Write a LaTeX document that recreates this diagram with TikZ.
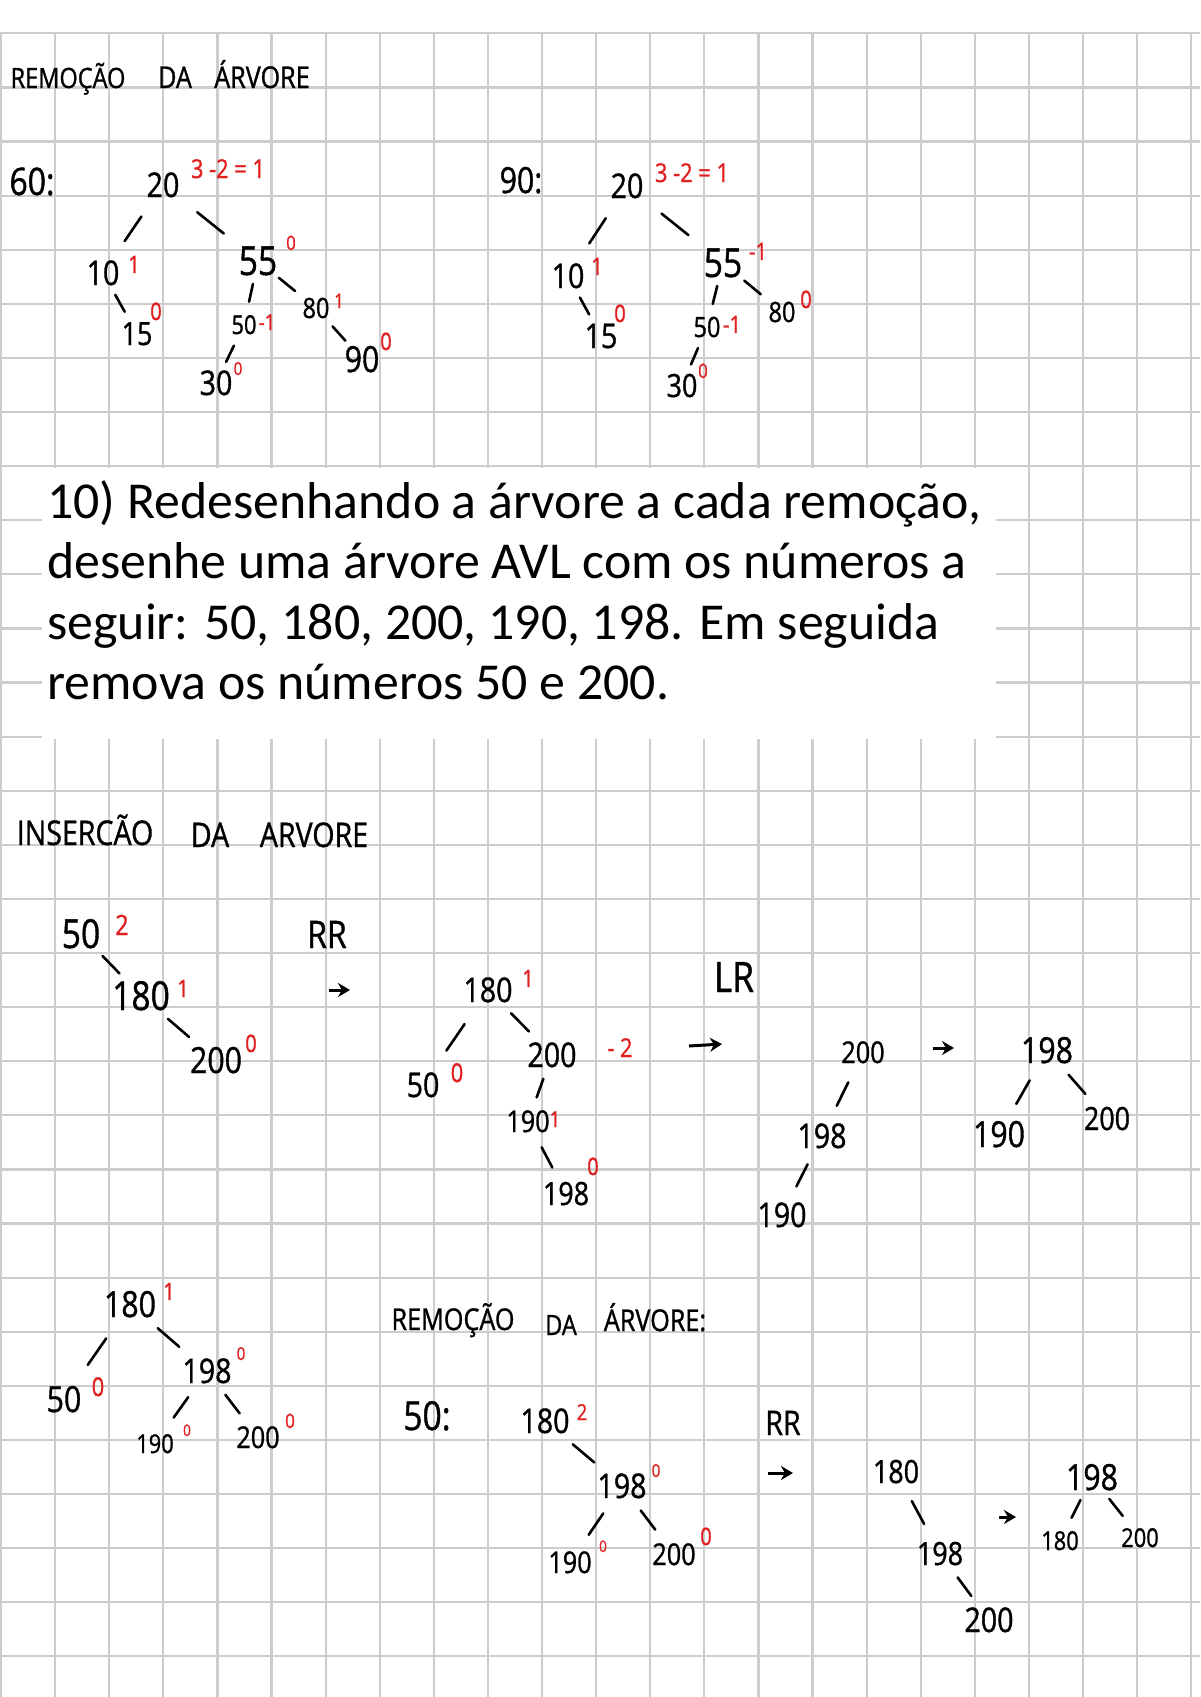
\documentclass[tikz,border=0pt]{standalone}
\usepackage{fontspec}
\newfontfamily\hand[FakeStretch=0.84,FakeBold=1]{Open Sans}
\newfontfamily\boxfont{Carlito}
\usepackage{xcolor}
\definecolor{cRed}{HTML}{E02020}
\definecolor{cGrid}{HTML}{CDCDCD}
\usepackage{tikz}
\usetikzlibrary{arrows.meta,calc}
\tikzset{
  hw/.style={font=\hand\fontsize{#1}{#1}\selectfont,inner sep=0pt,anchor=base},
  hw/.default=17,
  bal/.style={hw=#1,text=cRed},
  bal/.default=12,
  % short stroke in the middle between two keys
  link/.style={line width=1.3pt,line cap=round,
    to path={($(\tikztostart)!.36!(\tikztotarget)$) -- ($(\tikztostart)!.64!(\tikztotarget)$)}},
  arr/.style={-{Stealth[length=6pt,width=7pt]},line width=1.5pt},
  gridline/.style={draw=cGrid,line width=1.1pt},
  qline/.style={font=\boxfont\fontsize{25.9}{31}\selectfont,inner sep=0pt,anchor=base west},
}
\begin{document}
\begin{tikzpicture}[x=0.5pt,y=-0.5pt]
  \useasboundingbox (0,0) rectangle (1200,1697);
  \fill[white] (0,0) rectangle (1200,1697);
  % grid paper
  \foreach \k in {0,...,30}
    \draw[gridline] (0,{33.3+54.1*\k}) -- (1200,{33.3+54.1*\k});
  \foreach \k in {0,...,22}
    \draw[gridline] ({1+54.1*\k},33.3) -- ({1+54.1*\k},1697);

  % question box
  \fill[white] (42,468) rectangle (996,739);
  \node[qline] (q1) at (47,518) {10) Redesenhando a árvore a cada remoção,};
  \node[qline] (q2) at (47,578.5) {desenhe uma árvore AVL com os números a};
  \node[qline] (q3) at (47,639) {seguir: 50, 180, 200, 190, 198. Em seguida};
  \node[qline] (q4) at (47,699.5) {remova os números 50 e 200.};

  % removal, top
  \node[hw=14] (t1a) at (68,88) {REMOÇÃO};
  \node[hw=15] (t1b) at (175,88) {DA};
  \node[hw=15] (t1c) at (262,88) {ÁRVORE};

  \node[hw=19] (a0) at (32,195) {60:};
  \node[hw=17] (a20) at (163,197) {20};
  \node[bal=13] (a20b) at (228,178) {3 -2 = 1};
  \node[hw=17] (a10) at (103,285) {10};
  \node[bal]   (a10b) at (134,273) {1};
  \node[hw=20] (a55) at (258,275) {55};
  \node[bal=10] (a55b) at (291,250) {0};
  \node[hw=16] (a15) at (137,345) {15};
  \node[bal]   (a15b) at (156,320) {0};
  \node[hw=13] (a50) at (244,334) {50};
  \node[bal=11] (a50b) at (267,330) {-1};
  \node[hw=14] (a80) at (316,318) {80};
  \node[bal=10] (a80b) at (339,308) {1};
  \node[hw=17] (a30) at (216,395) {30};
  \node[bal=9] (a30b) at (238,375) {0};
  \node[hw=18] (a90) at (362,372) {90};
  \node[bal]   (a90b) at (386,350) {0};
  \draw[link] (a20) to (a10);
  \draw[link] (a20) to (a55);
  \draw[link] (a10) to (a15);
  \draw[link] (a55) to (a50);
  \draw[link] (a55) to (a80);
  \draw[link] (a50) to (a30);
  \draw[link] (a80) to (a90);

  \node[hw=18] (b0) at (521,193) {90:};
  \node[hw=17] (b20) at (627,198) {20};
  \node[bal=13] (b20b) at (692,182) {3 -2 = 1};
  \node[hw=17] (b10) at (568,288) {10};
  \node[bal]   (b10b) at (597,275) {1};
  \node[hw=20] (b55) at (723,277) {55};
  \node[bal]   (b55b) at (758,260) {-1};
  \node[hw=17] (b15) at (601,348) {15};
  \node[bal]   (b15b) at (620,322) {0};
  \node[hw=14] (b50) at (707,337) {50};
  \node[bal]   (b50b) at (732,333) {-1};
  \node[hw=14] (b80) at (782,322) {80};
  \node[bal]   (b80b) at (806,308) {0};
  \node[hw=16] (b30) at (682,397) {30};
  \node[bal=10] (b30b) at (703,378) {0};
  \draw[link] (b20) to (b10);
  \draw[link] (b20) to (b55);
  \draw[link] (b10) to (b15);
  \draw[link] (b55) to (b50);
  \draw[link] (b55) to (b80);
  \draw[link] (b50) to (b30);

  % insertion
  \node[hw=17] (t2a) at (85,845) {INSERCÃO};
  \node[hw=17] (t2b) at (210,847) {DA};
  \node[hw=17] (t2c) at (314,847) {ARVORE};

  \node[hw=20] (c50) at (81,948) {50};
  \node[bal=14] (c50b) at (122,935) {2};
  \node[hw=20] (c180) at (141,1010) {180};
  \node[bal]   (c180b) at (183,997) {1};
  \node[hw=18] (c200) at (216,1073) {200};
  \node[bal]   (c200b) at (251,1052) {0};
  \draw[link] (c50) to (c180);
  \draw[link] (c180) to (c200);
  \node[hw=19] (rr1) at (327,948) {RR};
  \coordinate (r1s) at (329,990);
  \coordinate (r1e) at (350,990);
  \draw[arr] (r1s) -- (r1e);

  \node[hw=17] (d180) at (488,1002) {180};
  \node[bal]   (d180b) at (528,987) {1};
  \node[hw=17] (d50) at (423,1097) {50};
  \node[bal=13] (d50b) at (457,1082) {0};
  \node[hw=17] (d200) at (552,1067) {200};
  \node[bal=13] (d200b) at (620,1057) {- 2};
  \node[hw=15] (d190) at (528,1132) {190};
  \node[bal=11] (d190b) at (555,1127) {1};
  \node[hw=16] (d198) at (566,1205) {198};
  \node[bal]   (d198b) at (593,1175) {0};
  \draw[link] (d180) to (d50);
  \draw[link] (d180) to (d200);
  \draw[link] (d200) to (d190);
  \draw[link] (d190) to (d198);
  \node[hw=21] (lr) at (734,992) {LR};
  \coordinate (r2s) at (689,1046);
  \coordinate (r2e) at (722,1044);
  \draw[arr] (r2s) -- (r2e);

  \node[hw=15] (e200) at (863,1063) {200};
  \node[hw=17] (e198) at (822,1148) {198};
  \node[hw=17] (e190) at (782,1227) {190};
  \draw[link] (e200) to (e198);
  \draw[link] (e198) to (e190);
  \coordinate (r3s) at (933,1048);
  \coordinate (r3e) at (954,1048);
  \draw[arr] (r3s) -- (r3e);

  \node[hw=18] (f198) at (1047,1063) {198};
  \node[hw=18] (f190) at (999,1147) {190};
  \node[hw=16] (f200) at (1107,1130) {200};
  \draw[link] (f198) to (f190);
  \draw[link] (f198) to (f200);

  \node[hw=18] (g180) at (130,1317) {180};
  \node[bal]   (g180b) at (169,1300) {1};
  \node[hw=18] (g50) at (64,1412) {50};
  \node[bal=13] (g50b) at (98,1396) {0};
  \node[hw=17] (g198) at (207,1383) {198};
  \node[bal=9] (g198b) at (241,1360) {0};
  \node[hw=13] (g190) at (155,1453) {190};
  \node[bal=8] (g190b) at (187,1436) {0};
  \node[hw=15] (g200) at (258,1448) {200};
  \node[bal=10] (g200b) at (290,1428) {0};
  \draw[link] (g180) to (g50);
  \draw[link] (g180) to (g198);
  \draw[link] (g198) to (g190);
  \draw[link] (g198) to (g200);

  % removal, bottom
  \node[hw=15] (t3a) at (453,1330) {REMOÇÃO};
  \node[hw=14] (t3b) at (561,1335) {DA};
  \node[hw=15] (t3c) at (655,1331) {ÁRVORE:};

  \node[hw=20] (h0) at (427,1430) {50:};
  \node[hw=17] (h180) at (545,1433) {180};
  \node[bal=11] (h180b) at (582,1420) {2};
  \node[hw=17] (h198) at (622,1498) {198};
  \node[bal=9] (h198b) at (656,1477) {0};
  \node[hw=15] (h190) at (570,1573) {190};
  \node[bal=8] (h190b) at (603,1552) {0};
  \node[hw=15] (h200) at (674,1565) {200};
  \node[bal]   (h200b) at (706,1545) {0};
  \draw[link] (h180) to (h198);
  \draw[link] (h198) to (h190);
  \draw[link] (h198) to (h200);
  \node[hw=17] (rr2) at (783,1435) {RR};
  \coordinate (r4s) at (768,1473);
  \coordinate (r4e) at (793,1473);
  \draw[arr] (r4s) -- (r4e);

  \node[hw=16] (i180) at (896,1483) {180};
  \node[hw=16] (i198) at (940,1565) {198};
  \node[hw=17] (i200) at (989,1632) {200};
  \draw[link] (i180) to (i198);
  \draw[link] (i198) to (i200);
  \coordinate (r5s) at (999,1517);
  \coordinate (r5e) at (1016,1517);
  \draw[arr] (r5s) -- (r5e);

  \node[hw=18] (j198) at (1092,1490) {198};
  \node[hw=13] (j180) at (1060,1550) {180};
  \node[hw=13] (j200) at (1140,1547) {200};
  \draw[link] (j198) to (j180);
  \draw[link] (j198) to (j200);
\end{tikzpicture}
\end{document}
